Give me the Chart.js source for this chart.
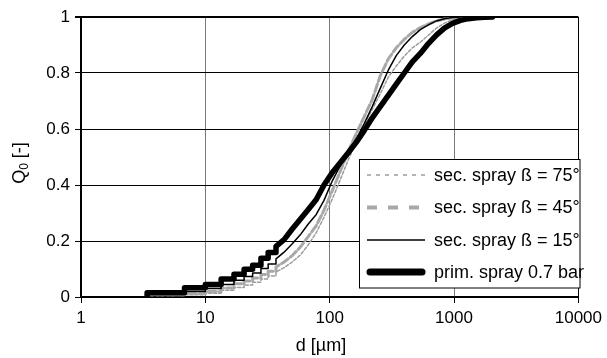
<!DOCTYPE html>
<html><head><meta charset="utf-8">
<script src="https://cdn.jsdelivr.net/npm/chart.js@4/dist/chart.umd.min.js"></script>
<style>html,body{margin:0;padding:0;background:#fff;}#wrap{width:607px;height:358px;}</style>
</head><body><div id="wrap"><canvas id="c" width="607" height="358"></canvas></div>
<script>
const xTicks = [1, 10, 100, 1000, 10000];
const yTicks = [0, 0.2, 0.4, 0.6, 0.8, 1];
const xTitle = 'd [µm]';
const legendLabels = ['sec. spray ß = 75°', 'sec. spray ß = 45°', 'sec. spray ß = 15°', 'prim. spray 0.7 bar'];

const dPrim = [3.4,3.4,6.8,6.8,10,10,13.4,13.4,17,17,20.5,20.5,24,24,28,28,32,32,37,37,43,50,58,67,78,90,105,122,141,164,190,220,255,296,343,398,462,536,622,721,837,971,1126,1307,1516,1759,2040];
const qPrim = [0.002,0.015,0.015,0.033,0.033,0.045,0.045,0.064,0.064,0.081,0.081,0.099,0.099,0.113,0.113,0.138,0.138,0.159,0.159,0.181,0.205,0.243,0.278,0.312,0.348,0.40,0.445,0.48,0.515,0.553,0.595,0.64,0.68,0.72,0.76,0.80,0.84,0.87,0.905,0.935,0.96,0.977,0.988,0.994,0.997,0.999,1.0];

const d15 = [3.4,3.4,6.8,6.8,10,10,13.4,13.4,17,17,20.5,20.5,24,24,28,28,32,32,37,37,43,50,58,67,78,90,105,122,141,164,190,220,255,296,343,398,462,536,622,721,837,971,1126];
const q15 = [0.002,0.01,0.01,0.02,0.02,0.03,0.03,0.045,0.045,0.06,0.06,0.073,0.073,0.086,0.086,0.102,0.102,0.118,0.118,0.136,0.16,0.19,0.222,0.26,0.295,0.345,0.415,0.47,0.52,0.565,0.62,0.68,0.745,0.81,0.862,0.9,0.93,0.955,0.972,0.986,0.994,0.998,1.0];

const d45 = [3.4,3.4,6.8,6.8,10,10,13.4,13.4,17,17,20.5,20.5,24,24,28,28,32,32,37,37,43,50,58,67,78,90,105,122,141,164,190,220,255,296,343,398,462,536,622,721,837,971,1126,1307];
const q45 = [0.002,0.008,0.008,0.012,0.012,0.02,0.02,0.032,0.032,0.047,0.047,0.057,0.057,0.068,0.068,0.08,0.08,0.092,0.092,0.107,0.125,0.148,0.178,0.215,0.255,0.31,0.38,0.45,0.52,0.585,0.645,0.705,0.79,0.85,0.89,0.92,0.945,0.962,0.975,0.986,0.993,0.997,0.999,1.0];

const d75 = [3.4,3.4,6.8,6.8,10,10,13.4,13.4,17,17,20.5,20.5,24,24,28,28,32,32,37,37,43,50,58,67,78,90,105,122,141,164,190,220,255,296,343,398,462,536,622,721,837,971,1126,1307,1516];
const q75 = [0.001,0.005,0.005,0.008,0.008,0.013,0.013,0.024,0.024,0.034,0.034,0.043,0.043,0.053,0.053,0.064,0.064,0.075,0.075,0.089,0.105,0.125,0.15,0.185,0.23,0.285,0.35,0.42,0.49,0.555,0.615,0.67,0.725,0.785,0.825,0.86,0.89,0.91,0.935,0.96,0.978,0.99,0.996,0.999,1.0];

const FONT = '"Liberation Sans", Arial, sans-serif';
const pts = (d, q) => d.map((x, i) => ({x: x, y: q[i]}));

const styles = [
  {color: '#9c9c9c', width: 1.5, dash: [3, 2], legendDash: [4, 5], legendWidth: 1.5},
  {color: '#a8a8a8', width: 3, dash: [8, 3], legendDash: [10, 11], legendWidth: 4},
  {color: '#000000', width: 1.5, dash: [], legendDash: [], legendWidth: 1.5},
  {color: '#000000', width: 5.5, dash: [], legendDash: [], legendWidth: 7}
];

function ds(d, q, s) {
  return {data: pts(d, q), showLine: true, borderColor: s.color, borderWidth: s.width, borderDash: s.dash,
    pointRadius: 0, fill: false, tension: 0, borderCapStyle: 'round', borderJoinStyle: 'round'};
}

const overlay = {
  id: 'overlay',
  afterDraw(chart) {
    const ctx = chart.ctx;
    ctx.save();
    ctx.fillStyle = '#fff';
    ctx.fillRect(359.5, 159.5, 220.5, 128.5);
    ctx.strokeStyle = '#000'; ctx.lineWidth = 1; ctx.setLineDash([]);
    ctx.strokeRect(359.5, 159.5, 220.5, 128.5);
    const ys = [175, 207.5, 240, 272];
    ctx.font = '18px ' + FONT;
    ctx.textBaseline = 'middle'; ctx.textAlign = 'left';
    for (let i = 0; i < 4; i++) {
      const s = styles[i];
      ctx.beginPath();
      ctx.strokeStyle = s.color; ctx.lineWidth = s.legendWidth; ctx.setLineDash(s.legendDash);
      ctx.lineCap = i === 3 ? 'round' : 'butt';
      ctx.moveTo(i === 3 ? 370 : 367, ys[i]); ctx.lineTo(i === 3 ? 422 : 425, ys[i]);
      ctx.stroke();
      ctx.setLineDash([]);
      ctx.fillStyle = '#000';
      ctx.fillText(legendLabels[i], 434, ys[i] + 1);
    }
    ctx.textAlign = 'center';
    ctx.fillText(xTitle, 321, 346);
    ctx.translate(20, 163);
    ctx.rotate(-Math.PI / 2);
    ctx.textAlign = 'left';
    ctx.font = '18px ' + FONT;
    const wQ = ctx.measureText('Q').width;
    ctx.font = '12px ' + FONT;
    const w0 = ctx.measureText('0').width;
    ctx.font = '18px ' + FONT;
    const wR = ctx.measureText(' [-]').width;
    let x0 = -(wQ + w0 + wR) / 2;
    ctx.fillText('Q', x0, 0);
    ctx.font = '12px ' + FONT;
    ctx.fillText('0', x0 + wQ, 5);
    ctx.font = '18px ' + FONT;
    ctx.fillText(' [-]', x0 + wQ + w0, 0);
    ctx.restore();
  }
};

new Chart(document.getElementById('c'), {
  type: 'scatter',
  data: {datasets: [ds(dPrim, qPrim, styles[3]), ds(d15, q15, styles[2]), ds(d45, q45, styles[1]), ds(d75, q75, styles[0])]},
  options: {
    responsive: false, animation: false, devicePixelRatio: 1,
    layout: {padding: {left: 0, top: 17, right: 27, bottom: 0}},
    plugins: {legend: {display: false}, tooltip: {enabled: false}},
    scales: {
      x: {
        type: 'logarithmic', min: 1, max: 10000, position: 'bottom',
        afterBuildTicks: s => { s.ticks = xTicks.map(v => ({value: v})); },
        afterFit: s => { s.height = 61; },
        ticks: {callback: v => String(v), font: {family: FONT, size: 17}, color: '#000', maxRotation: 0, autoSkip: false, padding: 5},
        grid: {color: c => (c.tick && c.tick.value === 10000) ? '#000' : '#7a7a7a', lineWidth: 1, tickLength: 6, tickColor: '#000'},
        border: {color: '#000', width: 2}
      },
      y: {
        type: 'linear', min: 0, max: 1,
        afterBuildTicks: s => { s.ticks = yTicks.map(v => ({value: v})); },
        afterFit: s => { s.width = 81; },
        ticks: {callback: v => String(v), font: {family: FONT, size: 17}, color: '#000', padding: 5},
        grid: {color: '#000', lineWidth: c => (c.tick && c.tick.value === 1) ? 2 : 1, tickLength: 6, tickColor: '#000'},
        border: {color: '#000', width: 2}
      }
    }
  },
  plugins: [overlay]
});
</script></body></html>
